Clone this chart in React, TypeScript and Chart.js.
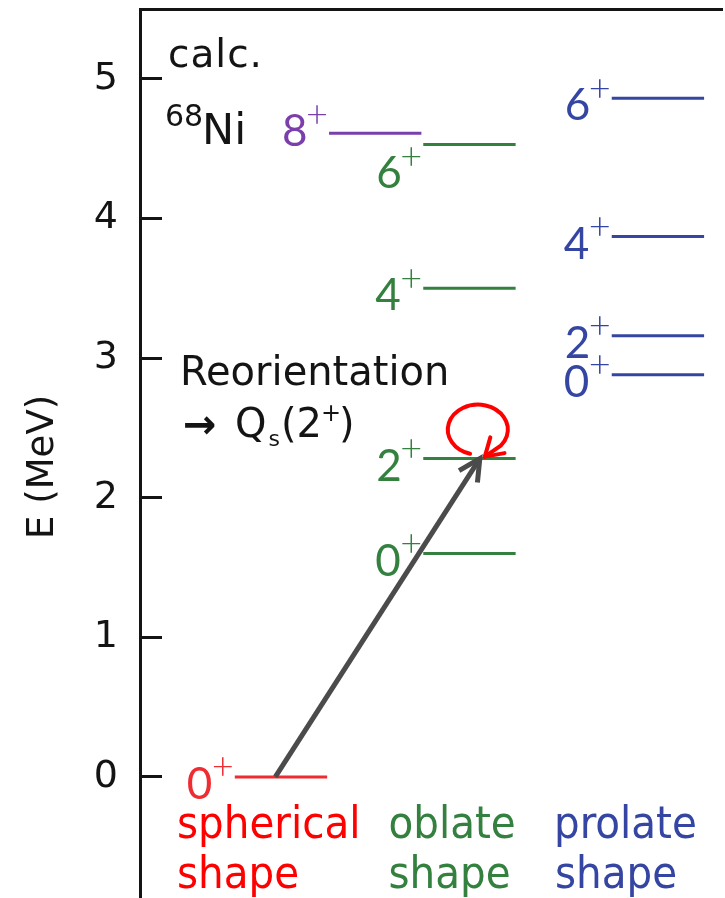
import { useEffect, useRef } from 'react';
import { Chart, registerables } from 'chart.js';

Chart.register(...registerables);

// Calculated excitation energies of 68Ni (MeV), grouped by nuclear shape.
const sphericalSpins = ['0'];
const sphericalEnergies = [0];
const oblateSpins = ['0', '2', '4', '6'];
const oblateEnergies = [1.6, 2.28, 3.5, 4.53];
const prolateSpins = ['0', '2', '4', '6'];
const prolateEnergies = [2.88, 3.16, 3.87, 4.86];
const yrastSpins = ['8'];
const yrastEnergies = [4.61];

// Captions below each shape column.
const shapeCaptions = [
  ['spherical', 'shape'],
  ['oblate', 'shape'],
  ['prolate', 'shape'],
];

// Energy axis.
const energyTicks = [0, 1, 2, 3, 4, 5];
const energyMin = -0.867;
const energyMax = 5.5;

// Coulomb excitation path: spherical ground state -> oblate 2+.
const transitionFrom = { family: 'spherical', level: 0 };
const transitionTo = { family: 'oblate', level: 1 };

const RED = '#ff0000';
const LEVEL_RED = '#ee2c32';
const GREEN = '#33803f';
const BLUE = '#3546a2';
const PURPLE = '#7a3fab';
const INK = '#141414';
const ARROW = '#4b4b4b';

const LEVEL_HALF_WIDTH = 0.245;

type Family = {
  name: string;
  column: number;
  spins: string[];
  energies: number[];
  color: string;
};

const families: Family[] = [
  { name: 'spherical', column: 0, spins: sphericalSpins, energies: sphericalEnergies, color: LEVEL_RED },
  { name: 'yrast', column: 0.5, spins: yrastSpins, energies: yrastEnergies, color: PURPLE },
  { name: 'oblate', column: 1, spins: oblateSpins, energies: oblateEnergies, color: GREEN },
  { name: 'prolate', column: 2, spins: prolateSpins, energies: prolateEnergies, color: BLUE },
];

const captionColors = [RED, GREEN, BLUE];
const captionOffsets = [-102, -79, -101];

// Labels that are moved vertically to keep them clear of neighbouring levels.
const labelNudge: Record<string, number> = { 'oblate 6': 22, 'yrast 8': -9 };

const familyByName = (name: string) => families.find((f) => f.name === name)!;
const columnOf = (name: string) => familyByName(name).column;
const energyOf = (name: string, i: number) => familyByName(name).energies[i];

const SPIN_FONT = '44px Lato';
const PLUS_FONT = '300 38px Lato';
const deg = (d: number) => (d * Math.PI) / 180;

function inkText(ctx: CanvasRenderingContext2D, text: string, font: string, left: number, baseline: number) {
  ctx.font = font;
  const m = ctx.measureText(text);
  const x = left + m.actualBoundingBoxLeft;
  ctx.fillText(text, x, baseline);
  return x + m.width;
}

function drawSpin(ctx: CanvasRenderingContext2D, spin: string, color: string, lineStart: number, lineY: number) {
  ctx.fillStyle = color;
  ctx.font = PLUS_FONT;
  const pm = ctx.measureText('+');
  const plusX = lineStart - 3 - pm.actualBoundingBoxRight;
  const plusCenter = lineY - 10;
  ctx.fillText('+', plusX, plusCenter + (pm.actualBoundingBoxAscent - pm.actualBoundingBoxDescent) / 2);
  const plusLeft = plusX - pm.actualBoundingBoxLeft;
  ctx.font = SPIN_FONT;
  const dm = ctx.measureText(spin);
  ctx.fillText(spin, plusLeft - 2 - dm.actualBoundingBoxRight, lineY + 22);
}

const levelDatasets = families.flatMap((f) =>
  f.spins.map((spin, i) => ({
    label: `${f.name} ${spin}`,
    data: [
      { x: f.column - LEVEL_HALF_WIDTH, y: f.energies[i] },
      { x: f.column + LEVEL_HALF_WIDTH, y: f.energies[i] },
    ],
    borderColor: f.color,
    borderWidth: 3,
    pointRadius: 0,
    pointHoverRadius: 0,
    borderCapStyle: 'butt' as const,
    spin,
    family: f.name,
  })),
);

const transitionDataset = {
  label: 'transition',
  data: [
    { x: columnOf(transitionFrom.family) - 0.03, y: energyOf(transitionFrom.family, transitionFrom.level) },
    { x: columnOf(transitionTo.family) + 0.055, y: energyOf(transitionTo.family, transitionTo.level) },
  ],
  borderColor: ARROW,
  borderWidth: 5,
  pointRadius: 0,
  pointHoverRadius: 0,
  borderCapStyle: 'butt' as const,
  order: -1,
};

const levelScheme = {
  id: 'levelScheme',
  beforeDatasetsDraw(chart: any) {
    const ctx: CanvasRenderingContext2D = chart.ctx;
    ctx.save();
    ctx.textAlign = 'left';
    ctx.textBaseline = 'alphabetic';
    chart.data.datasets.forEach((ds: any, i: number) => {
      if (!ds.spin) return;
      const p0 = chart.getDatasetMeta(i).data[0];
      const nudge = labelNudge[`${ds.family} ${ds.spin}`] ?? 0;
      drawSpin(ctx, ds.spin, ds.borderColor, p0.x, p0.y + nudge);
    });
    ctx.restore();
  },
  afterDatasetsDraw(chart: any) {
    const ctx: CanvasRenderingContext2D = chart.ctx;
    const idx = chart.data.datasets.findIndex((d: any) => d.label === 'transition');
    const pts = chart.getDatasetMeta(idx).data;
    const start = pts[0];
    const tip = pts[1];
    ctx.save();
    // arrowhead of the excitation
    const back = Math.atan2(start.y - tip.y, start.x - tip.x);
    const headLen = 24;
    ctx.strokeStyle = ARROW;
    ctx.lineWidth = 5;
    ctx.lineJoin = 'miter';
    ctx.lineCap = 'butt';
    ctx.beginPath();
    ctx.moveTo(tip.x + headLen * Math.cos(back - deg(27)), tip.y + headLen * Math.sin(back - deg(27)));
    ctx.lineTo(tip.x, tip.y);
    ctx.lineTo(tip.x + headLen * Math.cos(back + deg(27)), tip.y + headLen * Math.sin(back + deg(27)));
    ctx.stroke();

    // reorientation loop on the 2+ state
    const cx = tip.x - 2;
    const cy = tip.y - 29;
    const rtip = { x: tip.x + 5, y: tip.y - 2 };
    ctx.strokeStyle = RED;
    ctx.lineWidth = 4;
    ctx.lineCap = 'round';
    ctx.lineJoin = 'round';
    ctx.beginPath();
    ctx.ellipse(cx, cy, 30, 25, 0, deg(105), deg(400));
    ctx.lineTo(rtip.x, rtip.y);
    ctx.stroke();
    const rb = deg(-42);
    ctx.beginPath();
    ctx.moveTo(rtip.x + 20 * Math.cos(rb - deg(32)), rtip.y + 20 * Math.sin(rb - deg(32)));
    ctx.lineTo(rtip.x, rtip.y);
    ctx.lineTo(rtip.x + 20 * Math.cos(rb + deg(32)), rtip.y + 20 * Math.sin(rb + deg(32)));
    ctx.stroke();
    ctx.restore();
  },
  afterDraw(chart: any) {
    const ctx: CanvasRenderingContext2D = chart.ctx;
    const { left, top } = chart.chartArea;
    const xs = chart.scales.x;
    const ys = chart.scales.y;
    ctx.save();
    ctx.textAlign = 'left';
    ctx.textBaseline = 'alphabetic';
    ctx.fillStyle = INK;

    // title block
    (ctx as any).letterSpacing = '1px';
    inkText(ctx, 'calc.', "39px 'DejaVu Sans'", left + 30, top + 58);
    (ctx as any).letterSpacing = '0px';
    inkText(ctx, '68', "30px 'DejaVu Sans'", left + 27, top + 117);
    inkText(ctx, 'Ni', "43px 'DejaVu Sans'", left + 66, top + 135);

    // reorientation note
    const noteY = ys.getPixelForValue(3);
    inkText(ctx, 'Reorientation', "40px 'DejaVu Sans'", left + 43, noteY + 27);
    const l2 = noteY + 79;
    ctx.font = "bold 40px 'DejaVu Sans'";
    const am = ctx.measureText('→');
    ctx.fillText('→', left + 45 + am.actualBoundingBoxLeft, l2 - 12 + (am.actualBoundingBoxAscent - am.actualBoundingBoxDescent) / 2);
    let x = inkText(ctx, 'Q', "40px 'DejaVu Sans'", left + 97, l2);
    ctx.font = "22px 'DejaVu Sans'";
    ctx.fillText('s', x + 2, l2 + 9);
    x += 2 + ctx.measureText('s').width + 1;
    ctx.font = "40px 'DejaVu Sans'";
    ctx.fillText('(2', x, l2);
    x += ctx.measureText('(2').width;
    ctx.font = "24px 'DejaVu Sans'";
    ctx.fillText('+', x - 1, l2 - 16);
    x += ctx.measureText('+').width - 3;
    ctx.font = "40px 'DejaVu Sans'";
    ctx.fillText(')', x, l2);

    // energy axis title
    ctx.save();
    ctx.font = "37px 'DejaVu Sans'";
    ctx.translate(53, (ys.getPixelForValue(2) + ys.getPixelForValue(3)) / 2 + 39);
    ctx.rotate(-Math.PI / 2);
    ctx.textAlign = 'center';
    ctx.fillText('E (MeV)', 0, 0);
    ctx.restore();

    // shape captions
    const condensed = "45px 'DejaVu Sans Condensed', 'DejaVu Sans'";
    ctx.font = condensed;
    const wc = ctx.measureText('spherical').width;
    ctx.font = "45px 'DejaVu Sans'";
    const wn = ctx.measureText('spherical').width;
    const hasCondensed = wc < wn - 1;
    const capFont = hasCondensed ? condensed : "45px 'DejaVu Sans'";
    const squeeze = hasCondensed ? 1 : 0.9;
    const zeroY = ys.getPixelForValue(0);
    shapeCaptions.forEach((lines, c) => {
      const cxp = xs.getPixelForValue(c) + captionOffsets[c];
      ctx.fillStyle = captionColors[c];
      lines.forEach((t, k) => {
        ctx.save();
        ctx.translate(cxp, zeroY + 61 + k * 50);
        ctx.scale(squeeze, 1);
        ctx.font = capFont;
        const m = ctx.measureText(t);
        ctx.fillText(t, m.actualBoundingBoxLeft, 0);
        ctx.restore();
      });
    });
    ctx.restore();
  },
};

export default function App() {
  const ref = useRef<HTMLCanvasElement>(null);

  useEffect(() => {
    const canvas = ref.current!;
    const chart = new Chart(canvas, {
      type: 'line',
      data: { datasets: [transitionDataset, ...levelDatasets] as any },
      options: {
        responsive: false,
        devicePixelRatio: 1,
        animation: false,
        events: [],
        layout: { padding: { top: 9, right: 3, left: 0, bottom: 0 } },
        plugins: { legend: { display: false }, tooltip: { enabled: false } },
        scales: {
          x: {
            type: 'linear',
            position: 'top',
            min: -0.748,
            max: 2.34,
            ticks: { display: false },
            grid: { display: false, drawTicks: false },
            border: { display: true, color: INK, width: 3 },
          },
          y: {
            type: 'linear',
            position: 'left',
            min: energyMin,
            max: energyMax,
            afterBuildTicks: (axis: any) => {
              axis.ticks = energyTicks.map((value) => ({ value }));
            },
            afterFit: (axis: any) => {
              axis.width = 140;
              axis.paddingTop = 0;
              axis.paddingBottom = 0;
            },
            ticks: {
              color: INK,
              padding: 44,
              font: { family: "'DejaVu Sans'", size: 38 },
            },
            grid: {
              drawOnChartArea: false,
              drawTicks: true,
              tickLength: -22,
              tickWidth: 3,
              tickColor: INK,
            },
            border: { display: true, color: INK, width: 3 },
          },
        },
      },
      plugins: [levelScheme],
    });
    return () => chart.destroy();
  }, []);

  return (
    <div style={{ position: 'fixed', left: 0, top: 0, width: 725, height: 898, background: '#fff' }}>
      <canvas ref={ref} width={725} height={898} style={{ display: 'block', width: 725, height: 898 }} />
    </div>
  );
}
